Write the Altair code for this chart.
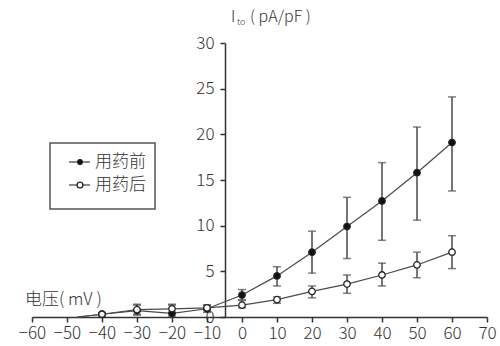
import altair as alt
import pandas as pd

# ---- data ----
voltage = [-40, -30, -20, -10, 0, 10, 20, 30, 40, 50, 60]
before = [0.3, 0.7, 0.4, 0.9, 2.4, 4.5, 7.1, 9.9, 12.7, 15.8, 19.1]
before_hi = [0.5, 1.3, 1.3, 1.3, 3.0, 5.5, 9.4, 13.1, 16.9, 20.8, 24.1]
before_lo = [0.1, 0.2, 0.1, 0.5, 1.9, 3.4, 4.8, 6.4, 8.4, 10.6, 13.8]
after = [0.3, 0.8, 0.9, 1.0, 1.3, 1.9, 2.8, 3.6, 4.6, 5.7, 7.1]
after_hi = [0.4, 1.4, 1.4, 1.3, 1.8, 2.2, 3.4, 4.6, 5.9, 7.1, 8.9]
after_lo = [0.2, 0.3, 0.4, 0.7, 1.0, 1.5, 2.1, 2.6, 3.4, 4.3, 5.3]
line_start_v = -47
line_start_i = 0.0
series_names = ["用药前", "用药后"]
x_ticks = list(range(-60, 71, 10))
y_ticks = list(range(0, 31, 5))

FONT = "Noto Sans CJK SC"
INK = "#333333"
LINE = "#4a4a4a"
TXT = "#333333"

rows = []
for name, vals, hi, lo in [(series_names[0], before, before_hi, before_lo),
                           (series_names[1], after, after_hi, after_lo)]:
    for v, m, h, l in zip(voltage, vals, hi, lo):
        rows.append({"V": v, "I": m, "hi": h, "lo": l, "series": name})
df = pd.DataFrame(rows)

line_rows = []
for name, vals in [(series_names[0], before), (series_names[1], after)]:
    line_rows.append({"V": line_start_v, "I": line_start_i, "series": name, "o": 0})
    for k, (v, m) in enumerate(zip(voltage, vals)):
        line_rows.append({"V": v, "I": m, "series": name, "o": k + 1})
df_line = pd.DataFrame(line_rows)

xs = alt.Scale(domain=[-60, 70], nice=False, zero=False)
ys = alt.Scale(domain=[0, 30], nice=False)

x_axis = alt.Axis(values=x_ticks, title=None, grid=False, domainColor=INK, domainWidth=1.5,
                  tickColor=INK, tickWidth=1.5, tickSize=5, labelFont=FONT, labelFontSize=17,
                  labelFontWeight=300, labelColor=TXT, labelPadding=3, labelFlush=False,
                  labelOverlap=False, labelBound=False)
y_axis = alt.Axis(values=y_ticks, title=None, grid=False, domainColor=INK, domainWidth=1.5,
                  tickColor=INK, tickWidth=1.5, tickSize=5, labelFont=FONT, labelFontSize=17,
                  labelFontWeight=300, labelColor=TXT, labelPadding=6, offset=-193,
                  labelOverlap=False, labelBound=False)

X = alt.X("V:Q", scale=xs, axis=x_axis)
Y = alt.Y("I:Q", scale=ys, axis=y_axis)

lines = alt.Chart(df_line).mark_line(color=LINE, strokeWidth=1.2).encode(
    x=X, y=Y, detail="series:N", order="o:Q")

err = alt.Chart(df).mark_rule(color=LINE, strokeWidth=1.5).encode(
    x=X, y=alt.Y("lo:Q", scale=ys, axis=y_axis), y2="hi:Q")
cap_hi = alt.Chart(df).mark_tick(color=LINE, thickness=1.5, size=8, orient="horizontal").encode(
    x=X, y=alt.Y("hi:Q", scale=ys, axis=y_axis))
cap_lo = alt.Chart(df).mark_tick(color=LINE, thickness=1.5, size=8, orient="horizontal").encode(
    x=X, y=alt.Y("lo:Q", scale=ys, axis=y_axis))

pts = alt.Chart(df).mark_point(shape="circle", size=42, strokeWidth=1.3, opacity=1, filled=False).encode(
    x=X, y=Y,
    fill=alt.Fill("series:N", scale=alt.Scale(domain=series_names, range=["#111111", "#ffffff"]), legend=None),
    stroke=alt.value("#222222"))

# annotations
def txt(s, x, y, size=17, align="left", baseline="middle", color=TXT, weight=300):
    return alt.Chart(pd.DataFrame({"t": [s]})).mark_text(
        font=FONT, fontSize=size, align=align, baseline=baseline, color=color, fontWeight=weight
    ).encode(text="t:N", x=alt.value(x), y=alt.value(y))

title_I = txt("I", 199, -26, size=16)
title_to = txt("to", 205, -21, size=9)
title_rest = txt("( pA/pF )", 218, -26, size=16)
xlab = txt("电压( mV )", -7, 257, size=17)

# legend box
box = alt.Chart(pd.DataFrame({"a": [0]})).mark_rect(fill="white", stroke="#555555", strokeWidth=1.5).encode(
    x=alt.value(18), x2=alt.value(123), y=alt.value(100), y2=alt.value(166))
leg_line1 = alt.Chart(pd.DataFrame({"a": [0]})).mark_rule(color=LINE, strokeWidth=1.3).encode(
    x=alt.value(37), x2=alt.value(58), y=alt.value(119))
leg_line2 = alt.Chart(pd.DataFrame({"a": [0]})).mark_rule(color=LINE, strokeWidth=1.3).encode(
    x=alt.value(37), x2=alt.value(58), y=alt.value(142))
leg_p1 = alt.Chart(pd.DataFrame({"a": [0]})).mark_point(shape="circle", size=34, filled=True, color="#111111", opacity=1).encode(
    x=alt.value(48), y=alt.value(119))
leg_p2 = alt.Chart(pd.DataFrame({"a": [0]})).mark_point(shape="circle", size=34, fill="white", stroke="#222222", strokeWidth=1.3, opacity=1).encode(
    x=alt.value(48), y=alt.value(142))
leg_t1 = txt(series_names[0], 63, 119, size=17)
leg_t2 = txt(series_names[1], 63, 142, size=17)

chart = alt.layer(
    lines, err, cap_hi, cap_lo, pts,
    box, leg_line1, leg_line2, leg_p1, leg_p2, leg_t1, leg_t2,
    title_I, title_to, title_rest, xlab
).properties(
    width=455, height=274,
    padding={"left": 32, "top": 43, "right": 13, "bottom": 29},
    autosize=alt.AutoSizeParams(type="none"),
    background="white",
).configure_view(stroke=None)

chart.save("out.html", embed_options={"renderer": "svg", "actions": False})
